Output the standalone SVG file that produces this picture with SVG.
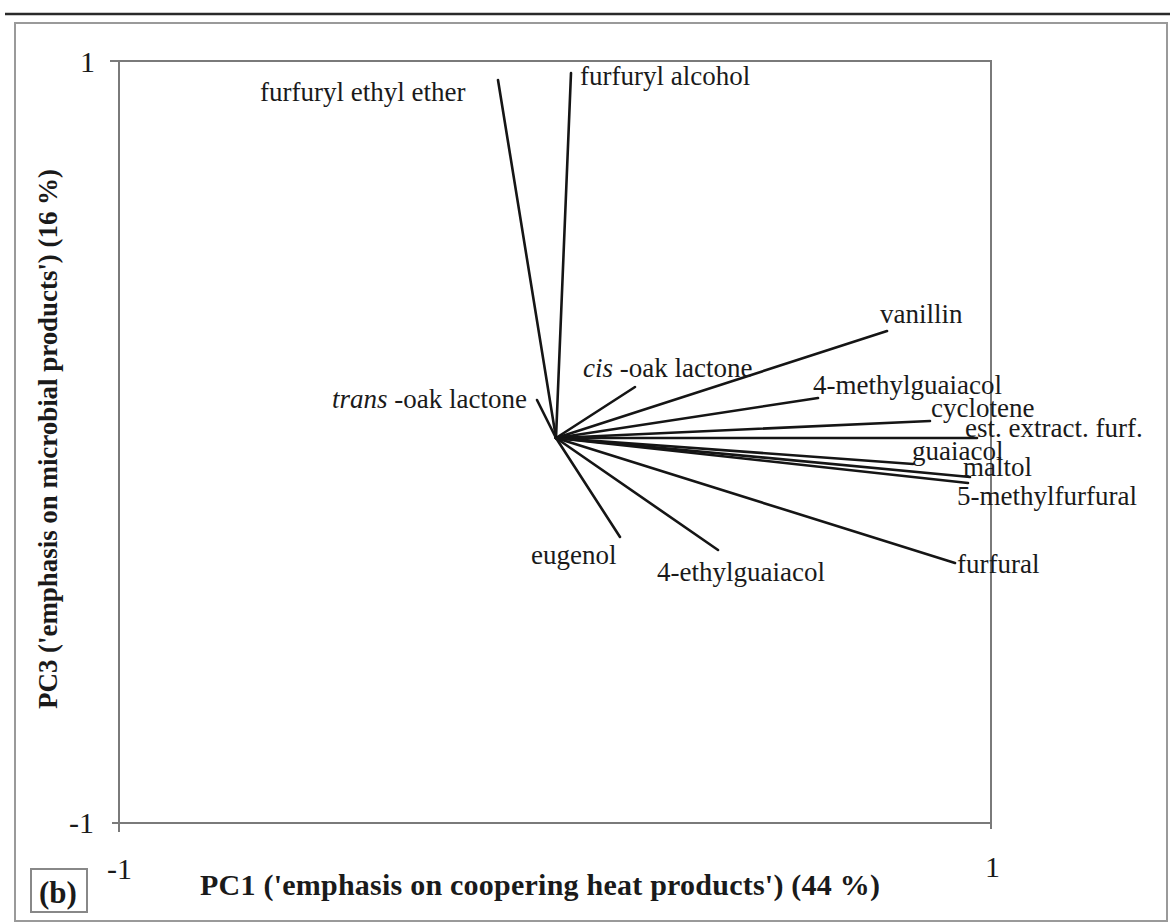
<svg xmlns="http://www.w3.org/2000/svg" width="1170" height="924" viewBox="0 0 1170 924">
  <style>
    text { font-family: "Liberation Serif", "DejaVu Serif", "Times New Roman", serif; fill: #1a1a1a; }
    .lbl { font-size: 27px; }
    .tick { font-size: 30px; }
    .axis { font-weight: bold; }
    .vec { stroke: #151515; stroke-width: 2.6; stroke-linecap: round; fill: none; }
    .frame { stroke: #7a7a7a; stroke-width: 2; fill: none; }
  </style>
  <rect x="0" y="0" width="1170" height="924" fill="#ffffff"/>
  <!-- page rule and outer panel frame -->
  <line x1="5" y1="14" x2="1170" y2="14" stroke="#2a2a2a" stroke-width="2.5"/>
  <rect x="15" y="23" width="1152" height="898" fill="none" stroke="#9a9a9a" stroke-width="2"/>

  <!-- plot area with ticks -->
  <g id="plot-frame">
    <rect class="frame" x="119" y="61" width="872" height="762"/>
    <line class="frame" x1="110" y1="61" x2="119" y2="61"/>
    <line class="frame" x1="112" y1="823" x2="119" y2="823"/>
    <line class="frame" x1="119" y1="823" x2="119" y2="832"/>
    <line class="frame" x1="991" y1="823" x2="991" y2="829"/>
  </g>

  <!-- tick labels -->
  <g id="tick-labels">
    <text class="tick" x="80" y="72">1</text>
    <text class="tick" x="69" y="833">-1</text>
    <text class="tick" x="107" y="879">-1</text>
    <text class="tick" x="985" y="877">1</text>
  </g>

  <!-- axis titles -->
  <g id="axis-x">
    <text class="axis" font-size="30" x="200" y="895" textLength="680">PC1 ('emphasis on coopering heat products') (44 %)</text>
  </g>
  <g id="axis-y">
    <text class="axis" font-size="27" transform="translate(57,439) rotate(-90)" x="-270" y="0" textLength="540">PC3 ('emphasis on microbial products') (16 %)</text>
  </g>

  <!-- loading vectors from the origin -->
  <g id="connectors">
    <line class="vec" x1="556" y1="438" x2="498" y2="80"/>
    <line class="vec" x1="556" y1="438" x2="571" y2="73"/>
    <line class="vec" x1="556" y1="438" x2="537" y2="400"/>
    <line class="vec" x1="556" y1="438" x2="635" y2="387"/>
    <line class="vec" x1="556" y1="438" x2="887" y2="331"/>
    <line class="vec" x1="556" y1="438" x2="818" y2="398"/>
    <line class="vec" x1="556" y1="438" x2="930" y2="421"/>
    <line class="vec" x1="556" y1="438" x2="977" y2="438"/>
    <line class="vec" x1="556" y1="438" x2="913" y2="464"/>
    <line class="vec" x1="556" y1="438" x2="970" y2="477"/>
    <line class="vec" x1="556" y1="438" x2="968" y2="483"/>
    <line class="vec" x1="556" y1="438" x2="955" y2="563"/>
    <line class="vec" x1="556" y1="438" x2="718" y2="550"/>
    <line class="vec" x1="556" y1="438" x2="620" y2="537"/>
  </g>

  <!-- variable labels -->
  <g id="furfuryl-ethyl-ether"><text class="lbl" x="260" y="101">furfuryl ethyl ether</text></g>
  <g id="furfuryl-alcohol"><text class="lbl" x="580" y="85">furfuryl alcohol</text></g>
  <g id="vanillin"><text class="lbl" x="880" y="323">vanillin</text></g>
  <g id="cis-oak-lactone"><text class="lbl" x="583" y="377"><tspan font-style="italic">cis</tspan> -oak lactone</text></g>
  <g id="trans-oak-lactone"><text class="lbl" x="527" y="408" text-anchor="end"><tspan font-style="italic">trans</tspan> -oak lactone</text></g>
  <g id="methylguaiacol"><text class="lbl" x="813" y="394">4-methylguaiacol</text></g>
  <g id="cyclotene"><text class="lbl" x="931" y="417">cyclotene</text></g>
  <g id="est-extract-furf"><text class="lbl" x="965" y="437">est. extract. furf.</text></g>
  <g id="guaiacol"><text class="lbl" x="912" y="460">guaiacol</text></g>
  <g id="maltol"><text class="lbl" x="963" y="476">maltol</text></g>
  <g id="methylfurfural"><text class="lbl" x="957" y="505">5-methylfurfural</text></g>
  <g id="furfural"><text class="lbl" x="957" y="573">furfural</text></g>
  <g id="eugenol"><text class="lbl" x="531" y="564">eugenol</text></g>
  <g id="ethylguaiacol"><text class="lbl" x="657" y="581">4-ethylguaiacol</text></g>

  <!-- panel tag -->
  <g id="panel-tag">
    <rect x="31" y="869" width="56" height="43" fill="none" stroke="#888888" stroke-width="2"/>
    <text class="axis" font-size="31" x="39" y="903">(b)</text>
  </g>
</svg>
